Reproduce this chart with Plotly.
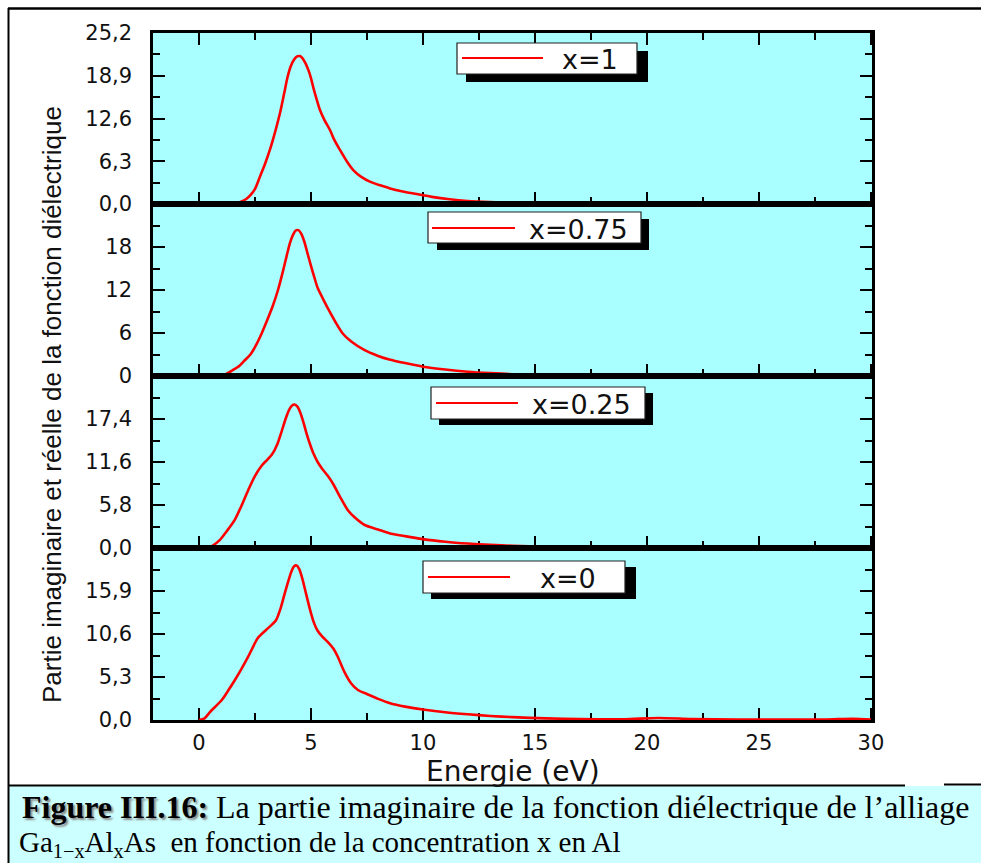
import plotly.graph_objects as go

W, H = 981, 863

# Imaginary part of the dielectric function, one stacked panel per Al concentration
concentrations = ["x=1", "x=0.75", "x=0.25", "x=0"]

energy_x1 = [0, 1.0, 1.5, 1.85, 2.1, 2.3, 2.5, 2.72, 2.95, 3.17, 3.4, 3.62, 3.8, 3.95, 4.1,
             4.25, 4.38, 4.5, 4.62, 4.75, 4.88, 5.0, 5.12, 5.25, 5.4, 5.6, 5.85, 6.05, 6.29,
             6.6, 6.89, 7.25, 7.63, 8.1, 8.53, 9.1, 9.72, 10.4, 11.2, 12.0, 13.0, 14.0, 15.0,
             16.5, 18, 20, 22, 24, 26, 28, 30]
eps2_x1 = [0, 0, 0.02, 0.3, 0.7, 1.3, 2.2, 4.0, 5.9, 8.0, 10.6, 13.4, 16.2, 18.6, 20.3,
           21.3, 21.75, 21.8, 21.5, 20.8, 19.8, 18.6, 17.0, 15.5, 13.9, 12.4, 10.9, 9.4, 8.0,
           6.3, 5.0, 4.0, 3.3, 2.75, 2.3, 1.85, 1.47, 1.05, 0.69, 0.45, 0.28, 0.17, 0.1,
           0.06, 0.04, 0.05, 0.03, 0.02, 0.02, 0.01, 0.0]

energy_x075 = [0, 0.8, 1.1, 1.5, 1.8, 2.05, 2.3, 2.55, 2.81, 3.05, 3.3, 3.53, 3.75, 3.92,
               4.07, 4.2, 4.32, 4.44, 4.56, 4.7, 4.85, 5.0, 5.15, 5.3, 5.55, 5.85, 6.1, 6.4,
               6.8, 7.4, 8.0, 8.5, 9.2, 10.0, 11.0, 12.0, 13.0, 14.0, 15.5, 17, 19, 21, 23,
               25, 27, 30]
eps2_x075 = [0, 0, 0.1, 0.8, 1.4, 2.2, 3.0, 4.3, 6.0, 7.8, 9.8, 12.0, 14.6, 16.8, 18.6,
             19.7, 20.3, 20.35, 19.9, 18.8, 17.1, 15.4, 13.8, 12.3, 10.7, 8.9, 7.5, 6.0,
             4.8, 3.6, 2.8, 2.3, 1.8, 1.3, 0.9, 0.6, 0.4, 0.25, 0.15, 0.1, 0.08, 0.1, 0.05,
             0.03, 0.02, 0.0]

energy_x025 = [0, 0.3, 0.6, 0.94, 1.25, 1.6, 1.9, 2.2, 2.5, 2.8, 3.05, 3.26, 3.5, 3.7, 3.88,
               4.02, 4.15, 4.27, 4.39, 4.52, 4.66, 4.8, 4.96, 5.12, 5.3, 5.5, 5.76, 6.0, 6.3,
               6.65, 7.0, 7.4, 8.0, 8.5, 9.2, 10.0, 11.0, 12.0, 13.0, 14.0, 15.5, 17, 19, 21,
               23, 25, 27, 30]
eps2_x025 = [0, 0, 0.3, 1.1, 2.3, 3.8, 5.7, 7.8, 9.7, 11.1, 11.9, 12.6, 14.0, 15.8, 17.5,
             18.6, 19.2, 19.35, 19.1, 18.3, 17.0, 15.5, 14.0, 12.7, 11.6, 10.7, 9.7, 8.6,
             6.9, 5.1, 4.0, 3.1, 2.5, 2.0, 1.6, 1.2, 0.85, 0.6, 0.42, 0.3, 0.18, 0.14, 0.1,
             0.12, 0.06, 0.04, 0.03, 0.0]

energy_x0 = [0, 0.25, 0.5, 1.03, 1.3, 1.6, 1.9, 2.2, 2.63, 3.0, 3.2, 3.44, 3.65, 3.85, 4.0,
             4.13, 4.25, 4.36, 4.48, 4.62, 4.78, 4.96, 5.12, 5.3, 5.5, 5.76, 6.0, 6.2, 6.5,
             6.8, 7.1, 7.5, 8.0, 8.5, 9.2, 10.0, 11.0, 12.0, 13.0, 14.0, 15.5, 17, 19, 20.5,
             22, 24, 26, 28, 29.2, 30]
eps2_x0 = [0, 0.2, 1.0, 2.5, 3.6, 4.9, 6.3, 7.8, 10.1, 11.1, 11.6, 12.3, 13.8, 15.8, 17.2,
           18.3, 18.95, 19.05, 18.6, 17.4, 15.6, 13.6, 12.1, 11.0, 10.3, 9.6, 8.8, 7.8, 5.9,
           4.5, 3.7, 3.2, 2.6, 2.1, 1.65, 1.3, 0.95, 0.7, 0.5, 0.35, 0.2, 0.12, 0.1, 0.25,
           0.12, 0.06, 0.05, 0.06, 0.15, 0.05]

energies = [energy_x1, energy_x075, energy_x025, energy_x0]
spectra = [eps2_x1, eps2_x075, eps2_x025, eps2_x0]

# Per-panel y-axis ticks (French decimal commas)
ytick_vals = [[0, 6.3, 12.6, 18.9, 25.2], [0, 6, 12, 18], [0, 5.8, 11.6, 17.4], [0, 5.3, 10.6, 15.9]]
ytick_text = [["0,0", "6,3", "12,6", "18,9", "25,2"], ["0", "6", "12", "18"],
              ["0,0", "5,8", "11,6", "17,4"], ["0,0", "5,3", "10,6", "15,9"]]
y_top = [25.2, 24, 23.2, 21.2]
xtick_vals = [0, 5, 10, 15, 20, 25, 30]
xtick_minor = [2.5, 7.5, 12.5, 17.5, 22.5, 27.5]

# ---- layout geometry (pixels) ----
plot_left, plot_right = 153, 872
panel_tops = [33, 204, 376, 548]
panel_bottoms = [204, 376, 548, 720]


def px(x):
    return x / W


def py(y):
    return 1 - y / H


SANS = "DejaVu Sans, Liberation Sans, Arial"
TICK_FONT = dict(family=SANS, size=21, color="#111111")
PLOT_BG = "#a9ffff"

fig = go.Figure()
layout = dict(
    width=W, height=H,
    margin=dict(l=0, r=0, t=0, b=0, pad=0, autoexpand=False),
    paper_bgcolor="white",
    plot_bgcolor=PLOT_BG,
    showlegend=False,
)

for i in range(4):
    n = "" if i == 0 else str(i + 1)
    fig.add_trace(go.Scatter(
        x=energies[i], y=spectra[i], mode="lines",
        line=dict(color="#ff0000", width=2.6, shape="spline", smoothing=0.7),
        name=concentrations[i], xaxis="x" + n, yaxis="y" + n,
    ))
    step = ytick_vals[i][1] - ytick_vals[i][0]
    minor_vals = [v + step / 2 for v in ytick_vals[i]]
    layout["xaxis" + n] = dict(
        domain=[px(plot_left), px(plot_right)], anchor="y" + n,
        range=[-2.05, 30.05], tickmode="array", tickvals=xtick_vals,
        ticktext=[str(v) for v in xtick_vals],
        showticklabels=(i == 3), tickfont=TICK_FONT, ticklabelstandoff=2,
        ticks="inside", ticklen=12, tickwidth=2, tickcolor="black",
        minor=dict(tickmode="array", tickvals=xtick_minor, ticks="inside",
                   ticklen=7, tickwidth=2, tickcolor="black"),
        showline=True, linecolor="black", linewidth=2.5,
        mirror="ticks" if i == 0 else True,
        showgrid=False, zeroline=False, layer="below traces",
        automargin=False, fixedrange=True,
    )
    layout["yaxis" + n] = dict(
        domain=[py(panel_bottoms[i]), py(panel_tops[i])], anchor="x" + n,
        range=[0, y_top[i]], tickmode="array", tickvals=ytick_vals[i],
        ticktext=ytick_text[i], tickfont=TICK_FONT,
        ticks="inside", ticklen=12, tickwidth=2, tickcolor="black",
        minor=dict(tickmode="array", tickvals=minor_vals, ticks="inside",
                   ticklen=7, tickwidth=2, tickcolor="black"),
        showline=True, linecolor="black", linewidth=2.5, mirror="ticks",
        showgrid=False, zeroline=False, layer="below traces",
        ticklabelstandoff=14, automargin=False, fixedrange=True,
    )

fig.update_layout(**layout)

shapes = []
annotations = []

# Outer frame and caption band
shapes.append(dict(type="rect", xref="paper", yref="paper", x0=px(8), x1=px(981),
                   y0=py(863), y1=py(786), fillcolor="#ccffff", line=dict(width=0), layer="below"))
shapes.append(dict(type="line", xref="paper", yref="paper", x0=px(8), x1=px(981),
                   y0=py(8.5), y1=py(8.5), line=dict(color="black", width=2.5)))
shapes.append(dict(type="line", xref="paper", yref="paper", x0=px(8.5), x1=px(8.5),
                   y0=py(8), y1=py(863), line=dict(color="black", width=2)))
shapes.append(dict(type="line", xref="paper", yref="paper", x0=px(8), x1=px(905),
                   y0=py(785.5), y1=py(785.5), line=dict(color="black", width=2)))
shapes.append(dict(type="line", xref="paper", yref="paper", x0=px(944), x1=px(981),
                   y0=py(784.5), y1=py(784.5), line=dict(color="black", width=2)))

# Legend boxes with drop shadows, one per panel
legend_boxes = [
    dict(box=(457, 43, 637, 74), shadow=(466, 51, 648, 82), line=(462, 543, 58), text=590),
    dict(box=(428, 212, 641, 243), shadow=(437, 219, 649, 250), line=(432, 515, 228), text=578),
    dict(box=(431, 387, 645, 419), shadow=(439, 393, 653, 425), line=(436, 518, 403), text=581),
    dict(box=(423, 561, 625, 593), shadow=(431, 567, 636, 599), line=(428, 510, 577), text=568),
]
for label, spec in zip(concentrations, legend_boxes):
    sx0, sy0, sx1, sy1 = spec["shadow"]
    shapes.append(dict(type="rect", xref="paper", yref="paper", x0=px(sx0), x1=px(sx1),
                       y0=py(sy1), y1=py(sy0), fillcolor="black", line=dict(width=0)))
    bx0, by0, bx1, by1 = spec["box"]
    shapes.append(dict(type="rect", xref="paper", yref="paper", x0=px(bx0), x1=px(bx1),
                       y0=py(by1), y1=py(by0), fillcolor="white",
                       line=dict(color="#222222", width=1.2)))
    lx0, lx1, ly = spec["line"]
    shapes.append(dict(type="line", xref="paper", yref="paper", x0=px(lx0), x1=px(lx1),
                       y0=py(ly), y1=py(ly), line=dict(color="#ff0000", width=2.2)))
    annotations.append(dict(xref="paper", yref="paper", x=px(spec["text"]), y=py(ly + 1),
                            text=label, showarrow=False, xanchor="center", yanchor="middle",
                            font=dict(family=SANS, size=27, color="#111111")))

# Axis titles
annotations.append(dict(xref="paper", yref="paper", x=px((plot_left + plot_right) / 2),
                        y=py(771), text="Energie (eV)", showarrow=False,
                        xanchor="center", yanchor="middle",
                        font=dict(family=SANS, size=28, color="#111111")))
annotations.append(dict(xref="paper", yref="paper", x=px(52), y=py(405),
                        text="Partie imaginaire et réelle de la fonction diélectrique",
                        textangle=-90, showarrow=False, xanchor="center", yanchor="middle",
                        font=dict(family="Liberation Sans, Arial, sans-serif",
                                  size=26, color="#111111")))

# Caption
CAP_FONT = "Liberation Serif, Times New Roman, serif"
annotations.append(dict(xref="paper", yref="paper", x=px(20), y=py(807),
                        text="<b>Figure III.16:</b>", showarrow=False, xanchor="left",
                        yanchor="middle",
                        font=dict(family=CAP_FONT, size=32, color="black",
                                  shadow="2px 2px 2px #8a8a8a")))
annotations.append(dict(xref="paper", yref="paper", x=px(214), y=py(807),
                        text="La partie imaginaire de la fonction diélectrique de l’alliage",
                        showarrow=False, xanchor="left", yanchor="middle",
                        font=dict(family=CAP_FONT, size=32, color="black")))
annotations.append(dict(xref="paper", yref="paper", x=px(17), y=py(844),
                        text="Ga<sub>1−x</sub>Al<sub>x</sub>As\u00a0 en fonction de la concentration x en Al",
                        showarrow=False, xanchor="left", yanchor="middle",
                        font=dict(family=CAP_FONT, size=29, color="black")))

fig.update_layout(shapes=shapes, annotations=annotations)
fig.write_html("out.html", post_script="document.body.style.margin='0';")
